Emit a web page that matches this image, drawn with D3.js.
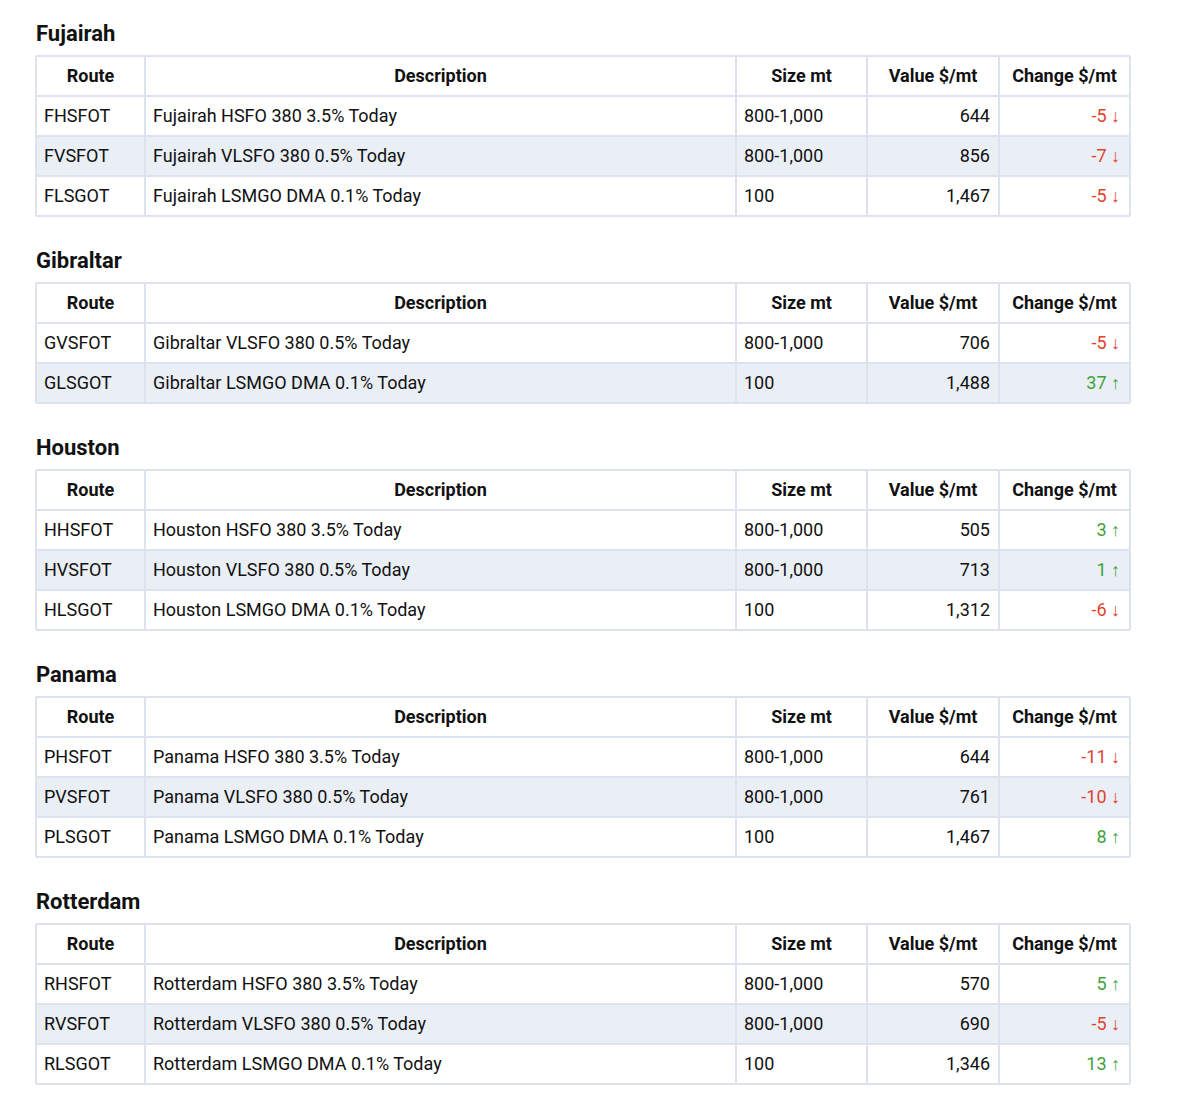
<!DOCTYPE html>
<html><head><meta charset="utf-8">
<script src="https://cdn.jsdelivr.net/npm/d3@7"></script>
<style>body{margin:0;background:#fff}</style>
</head><body>
<svg id="chart" width="1177" height="1100"></svg>
<script>
var ports = ["Fujairah", "Gibraltar", "Houston", "Panama", "Rotterdam"];
var headers = ["Route", "Description", "Size mt", "Value $/mt", "Change $/mt"];
var routes = [
  ["FHSFOT", "FVSFOT", "FLSGOT"],
  ["GVSFOT", "GLSGOT"],
  ["HHSFOT", "HVSFOT", "HLSGOT"],
  ["PHSFOT", "PVSFOT", "PLSGOT"],
  ["RHSFOT", "RVSFOT", "RLSGOT"]
];
var descriptions = [
  ["Fujairah HSFO 380 3.5% Today", "Fujairah VLSFO 380 0.5% Today", "Fujairah LSMGO DMA 0.1% Today"],
  ["Gibraltar VLSFO 380 0.5% Today", "Gibraltar LSMGO DMA 0.1% Today"],
  ["Houston HSFO 380 3.5% Today", "Houston VLSFO 380 0.5% Today", "Houston LSMGO DMA 0.1% Today"],
  ["Panama HSFO 380 3.5% Today", "Panama VLSFO 380 0.5% Today", "Panama LSMGO DMA 0.1% Today"],
  ["Rotterdam HSFO 380 3.5% Today", "Rotterdam VLSFO 380 0.5% Today", "Rotterdam LSMGO DMA 0.1% Today"]
];
var sizes = [
  ["800-1,000", "800-1,000", "100"],
  ["800-1,000", "100"],
  ["800-1,000", "800-1,000", "100"],
  ["800-1,000", "800-1,000", "100"],
  ["800-1,000", "800-1,000", "100"]
];
var values = [[644, 856, 1467], [706, 1488], [505, 713, 1312], [644, 761, 1467], [570, 690, 1346]];
var changes = [[-5, -7, -5], [-5, 37], [3, 1, -6], [-11, -10, 8], [5, -5, 13]];

var svg = d3.select("#chart");
var font = "Roboto, 'Liberation Sans', sans-serif";
var colEdges = [36, 145, 736, 867, 999, 1130];
var rowH = 40, border = "#dde2ee", stripe = "#eaeff6";
var fmt = d3.format(",");

var tableTop = 56;
ports.forEach(function (port, p) {
  var t0 = tableTop;
  var g = svg.append("g");
  g.append("text").attr("x", 36).attr("y", t0 - 15)
    .attr("font-family", font).attr("font-size", 22).attr("font-weight", "bold")
    .attr("fill", "#111").text(port);

  var n = routes[p].length;
  var y = d3.scaleBand().domain(d3.range(n + 1)).range([t0, t0 + rowH * (n + 1)]);

  // stripes on even rows
  g.selectAll("rect.stripe").data(d3.range(1, n + 1).filter(function (i) { return i % 2 === 0; }))
    .enter().append("rect")
    .attr("x", colEdges[0]).attr("width", colEdges[5] - colEdges[0])
    .attr("y", function (i) { return y(i); }).attr("height", rowH).attr("fill", stripe);

  // grid lines
  g.selectAll("line.h").data(d3.range(n + 2)).enter().append("line")
    .attr("x1", colEdges[0]).attr("x2", colEdges[5])
    .attr("y1", function (i) { return t0 + i * rowH; }).attr("y2", function (i) { return t0 + i * rowH; })
    .attr("stroke", border).attr("stroke-width", 2);
  g.selectAll("line.v").data(colEdges).enter().append("line")
    .attr("x1", function (d) { return d; }).attr("x2", function (d) { return d; })
    .attr("y1", t0).attr("y2", t0 + rowH * (n + 1))
    .attr("stroke", border).attr("stroke-width", 2);

  // header
  g.selectAll("text.hd").data(headers).enter().append("text")
    .attr("x", function (d, i) { return (colEdges[i] + colEdges[i + 1]) / 2; })
    .attr("y", y(0) + rowH / 2 + 6).attr("text-anchor", "middle")
    .attr("font-family", font).attr("font-size", 18).attr("font-weight", "bold").attr("fill", "#111")
    .text(function (d) { return d; });

  d3.range(n).forEach(function (r) {
    var cy = y(r + 1) + rowH / 2 + 6;
    var txt = function (x, s, anchor, color) {
      g.append("text").attr("x", x).attr("y", cy).attr("text-anchor", anchor)
        .attr("font-family", font).attr("font-size", 18).attr("fill", color || "#111").text(s);
    };
    txt(colEdges[0] + 8, routes[p][r], "start");
    txt(colEdges[1] + 8, descriptions[p][r], "start");
    txt(colEdges[2] + 8, sizes[p][r], "start");
    txt(colEdges[4] - 9, fmt(values[p][r]), "end");
    var c = changes[p][r];
    txt(colEdges[5] - 10, c + " " + (c < 0 ? "\u2193" : "\u2191"), "end", c < 0 ? "#e2432e" : "#3ea33a");
  });

  tableTop += rowH * (n + 1) + 67;
});
</script>
</body></html>
